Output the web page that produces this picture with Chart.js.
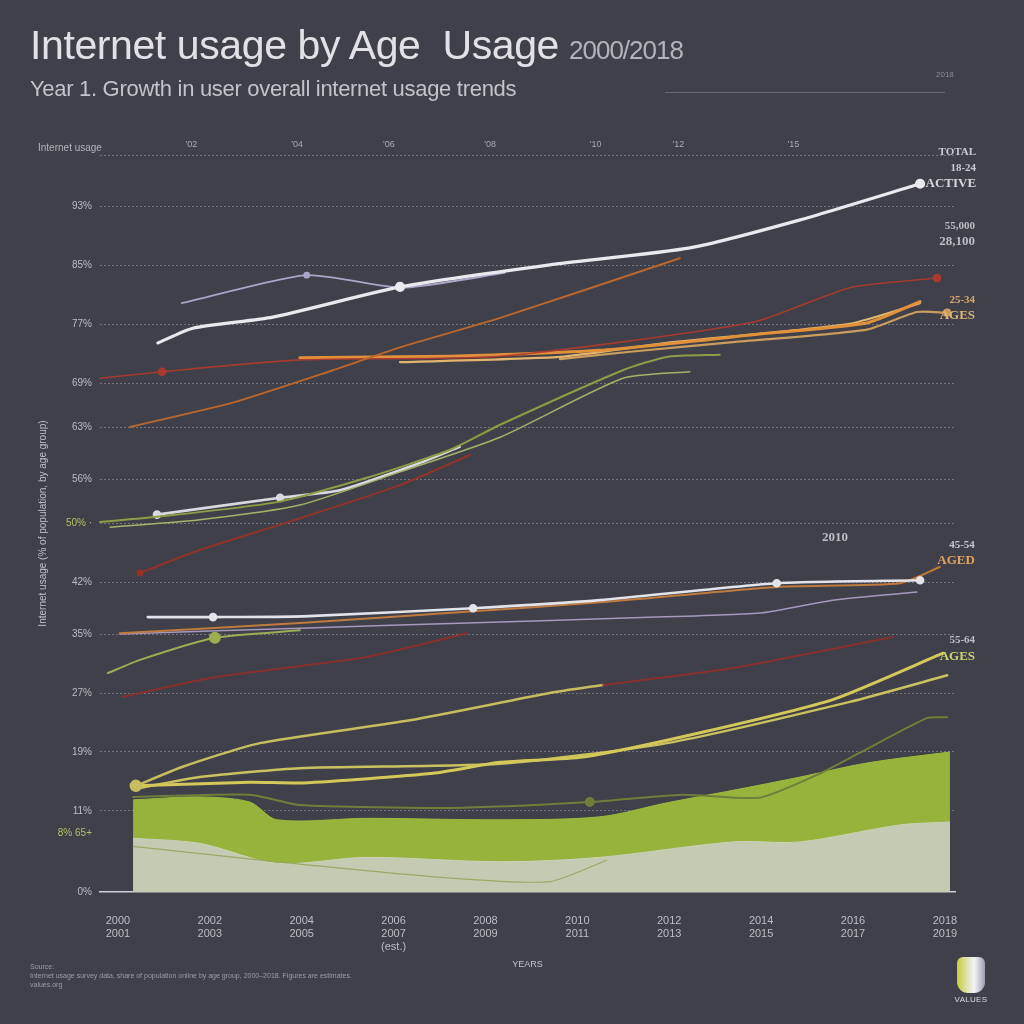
<!DOCTYPE html>
<html>
<head>
<meta charset="utf-8">
<script src="https://cdn.jsdelivr.net/npm/chart.js@4.4.0/dist/chart.umd.min.js"></script>
<style>
  html, body { margin: 0; padding: 0; background: #3f4049; }
  #wrap { position: relative; width: 1024px; height: 1024px; overflow: hidden; font-family: "Liberation Sans", Arial, sans-serif; }
  #wrap canvas { position: absolute; left: 0; top: 0; }
  .title { position: absolute; left: 30px; top: 22px; font-size: 41px; color: #e2e2e6; letter-spacing: -0.4px; white-space: nowrap; }
  .title .yr { font-size: 26px; color: #b3b3ba; letter-spacing: -1px; margin-left: 10px; }
  .subtitle { position: absolute; left: 30px; top: 76px; font-size: 22px; color: #c3c3c9; white-space: nowrap; letter-spacing: -0.3px; }
  .rule { position: absolute; left: 665px; top: 92px; width: 280px; height: 1px; background: #6a6b74; }
  .tiny { position: absolute; left: 936px; top: 70px; font-size: 8px; color: #8d8d95; }
  .foot { position: absolute; left: 30px; top: 962px; font-size: 7px; line-height: 9px; color: #9c9ca4; }
  .logo { position: absolute; left: 957px; top: 957px; width: 28px; height: 36px; border-radius: 6px 6px 11px 11px;
          background: linear-gradient(90deg, #c5cd3a 0%, #e3e7c4 42%, #f4f4f6 62%, #9a9dae 100%); }
  .logoText { position: absolute; left: 946px; top: 995px; width: 50px; text-align: center; font-size: 8px; color: #dcdce0; letter-spacing: 0.3px; }
</style>
</head>
<body>
<div id="wrap">
  <canvas id="myChart" width="1024" height="1024"></canvas>
  <div class="title">Internet usage by Age&nbsp; Usage<span class="yr">2000/2018</span></div>
  <div class="subtitle">Year 1. Growth in user overall internet usage trends</div>
  <div class="rule"></div>
  <div class="tiny">2018</div>
  <div class="foot">Source:<br>Internet usage survey data, share of population online by age group, 2000–2018. Figures are estimates.<br>values.org</div>
  <div class="logo"></div>
  <div class="logoText">VALUES</div>
</div>
<script>
// x = year, y = share of users (%)
const xTickYears = [2000, 2002, 2004, 2006, 2008, 2010, 2012, 2014, 2016, 2018];
const xTickLabels = [
  ['2000', '2001'], ['2002', '2003'], ['2004', '2005'], ['2006', '2007', '(est.)'], ['2008', '2009'],
  ['2010', '2011'], ['2012', '2013'], ['2014', '2015'], ['2016', '2017'], ['2018', '2019']
];
const topTickYears = [2001.6, 2003.9, 2005.9, 2008.1, 2010.4, 2012.2, 2014.7];
const topTickLabels = ["'02", "'04", "'06", "'08", "'10", "'12", "'15"];
const yTickValues = [0, 8, 11, 19, 27, 35, 42, 50, 56, 63, 69, 77, 85, 93, 100];
const yTickLabels = ['0%', '8% 65+', '11%', '19%', '27%', '35%', '42%', '50% ·', '56%', '63%', '69%', '77%', '85%', '93%', ''];

// series: [year, value]
const totalUsers = [[2000.87, 74.5], [2001.63, 76.5], [2003.37, 78.0], [2006.14, 82.1], [2009.40, 85.1], [2012.45, 87.4], [2014.85, 91.2], [2017.46, 96.1]];
const earlyAdopters = [[2001.39, 79.9], [2004.11, 83.7], [2006.18, 82.0], [2008.42, 84.0]];
const age18Mobile = [[2000.26, 63.1], [2002.50, 66.4], [2004.68, 70.8], [2006.14, 73.9], [2008.32, 77.9], [2012.23, 86.0]];
const age25Red = [[1999.61, 69.7], [2000.96, 70.6], [2003.96, 72.2], [2008.32, 72.7], [2013.82, 77.3], [2015.93, 82.0], [2017.83, 83.3]];
const age25Orange = [[2003.96, 72.5], [2007.23, 72.7], [2010.49, 73.5], [2014.13, 75.8], [2016.30, 77.2], [2017.46, 80.1]];
const age35Gold = [[2006.14, 71.9], [2009.62, 72.6], [2011.95, 74.5], [2015.93, 77.1], [2017.46, 79.9]];
const age35Sand = [[2009.62, 72.3], [2011.15, 73.3], [2013.39, 74.6], [2016.30, 76.3], [2017.39, 78.7], [2018.05, 78.6]];
const broadbandGreen = [[1999.61, 50.2], [2000.85, 50.9], [2003.46, 52.9], [2005.42, 56.2], [2007.23, 60.0], [2008.32, 63.4], [2010.99, 70.8], [2011.95, 72.6], [2013.10, 72.9]];
const broadbandOlive = [[1999.83, 49.5], [2001.78, 50.5], [2003.96, 52.5], [2006.14, 57.0], [2008.32, 61.7], [2010.99, 69.7], [2012.45, 70.6]];
const dialupWhite = [[2000.85, 51.2], [2003.53, 53.5], [2004.83, 54.5], [2006.57, 58.2], [2007.44, 60.4]];
const dialupRed = [[2000.48, 43.3], [2001.78, 46.4], [2003.96, 50.7], [2006.14, 55.2], [2007.66, 59.3]];
const age45White = [[2000.65, 37.3], [2002.07, 37.3], [2004.03, 37.4], [2007.73, 38.5], [2010.49, 39.6], [2014.34, 41.9], [2017.46, 42.3]];
const age45Orange = [[2000.04, 35.1], [2003.96, 36.5], [2007.73, 38.1], [2010.49, 39.3], [2014.34, 41.4], [2017.02, 41.9], [2017.89, 44.1]];
const age45Lilac = [[2000.04, 35.0], [2003.96, 35.8], [2007.60, 36.5], [2011.21, 37.2], [2014.04, 37.9], [2015.56, 39.6], [2017.39, 40.7]];
const ruralGreen = [[1999.78, 29.7], [2000.48, 31.5], [2002.11, 34.5], [2003.96, 35.5]];
const ruralRed = [[2000.11, 26.5], [2002.16, 29.2], [2005.42, 31.9], [2007.60, 35.1]];
const ruralRedLate = [[2010.56, 28.1], [2013.39, 30.4], [2016.87, 34.6]];
const age55A = [[2000.39, 14.4], [2001.41, 17.0], [2003.09, 20.2], [2006.36, 23.3], [2009.40, 27.0], [2010.56, 28.1]];
const age55B = [[2000.39, 14.4], [2002.87, 14.9], [2004.03, 14.8], [2006.86, 16.1], [2008.32, 17.6], [2010.12, 18.3], [2012.67, 21.6], [2015.56, 26.1], [2017.96, 32.4]];
const age55C = [[2000.39, 14.0], [2001.78, 15.6], [2003.96, 16.8], [2008.32, 17.4], [2011.95, 20.2], [2015.93, 25.8], [2018.05, 29.4]];
const age65Line = [[2000.33, 12.9], [2002.87, 13.2], [2003.96, 11.8], [2007.23, 11.4], [2010.27, 12.2], [2012.30, 13.2], [2013.97, 12.8], [2015.22, 15.9], [2016.15, 18.9], [2017.61, 23.6], [2018.05, 23.7]];
const age65Area = [[2000.33, 12.5], [2001.78, 12.9], [2002.87, 12.2], [2003.46, 9.8], [2005.42, 10.0], [2008.32, 9.8], [2010.49, 10.2], [2011.95, 12.1], [2013.39, 13.8], [2014.85, 15.6], [2016.30, 17.5], [2018.11, 19.0]];
const offlineArea = [[2000.33, 7.3], [2001.78, 6.6], [2003.46, 3.9], [2005.42, 4.7], [2008.32, 4.1], [2010.49, 4.7], [2013.39, 6.8], [2014.85, 6.8], [2017.02, 9.1], [2018.11, 9.5]];
const offlineEdge = [[2000.33, 6.2], [2003.46, 4.1], [2007.23, 1.9], [2009.40, 1.4], [2010.64, 4.3]];

const pts = arr => arr.map(p => ({ x: p[0], y: p[1] }));

// helper for the line series
const line = (label, arr, color, width, extra) => Object.assign({
  label: label,
  data: pts(arr),
  borderColor: color,
  backgroundColor: color,
  borderWidth: width,
  tension: 0.2,
  fill: false,
  order: 1,
  clip: false,
  borderCapStyle: 'round'
}, extra || {});

const datasets = [
  line('Total users', totalUsers, '#e9e9ee', 3.2, { marks: [3, 7], markR: 3.5 }),
  line('Early adopters', earlyAdopters, '#aaa5c9', 1.8, { marks: [1], markR: 2.5 }),
  line('18-24 mobile', age18Mobile, '#b9672f', 2),
  line('25-34 (red)', age25Red, 'rgba(178,58,46,0.9)', 1.6, { marks: [1, 6], markR: 3.5, markColor: '#d0707a' }),
  line('25-34', age25Orange, '#e0913a', 3),
  line('35-44', age35Gold, '#e4b56c', 2.2),
  line('35-44 (b)', age35Sand, '#c99d5c', 2.2, { marks: [5], markR: 3, markColor: '#dcd0c0' }),
  line('Broadband', broadbandGreen, '#8b9f46', 2),
  line('Broadband (b)', broadbandOlive, '#a3b46a', 1.5),
  line('Dial-up', dialupWhite, '#d9d9e0', 2.6, { marks: [0, 1], markR: 3 }),
  line('Dial-up (red)', dialupRed, 'rgba(160,48,38,0.85)', 2, { marks: [0], markR: 2.5 }),
  line('45-54', age45White, '#e3e3ea', 2.6, { marks: [1, 3, 5, 6], markR: 3 }),
  line('45-54 (orange)', age45Orange, '#c17a3e', 2),
  line('45-54 (lilac)', age45Lilac, '#a698bf', 1.5),
  line('Rural', ruralGreen, '#9bae52', 2, { marks: [2], markR: 5, markColor: '#b4c45a' }),
  line('Rural (red)', ruralRed, 'rgba(150,45,40,0.85)', 2),
  line('Rural (red, late)', ruralRedLate, 'rgba(150,45,40,0.85)', 2),
  line('55-64', age55A, '#c6bd5e', 2.5, { marks: [0], markR: 5, markColor: '#f0f0f0' }),
  line('55-64 (b)', age55B, '#d3c85a', 3),
  line('55-64 (c)', age55C, '#c9c25e', 2.5),
  line('65+', age65Line, '#6f7f3a', 2, { marks: [4], markR: 4 }),
  line('Offline edge', offlineEdge, 'rgba(150,165,95,0.9)', 1.2),
  {
    label: '65+ share',
    data: pts(age65Area),
    borderColor: '#9cb93e',
    backgroundColor: '#97b33b',
    borderWidth: 1,
    fill: 'origin',
    tension: 0.3,
    pointRadius: 0,
    order: 6
  },
  {
    label: 'Offline',
    data: pts(offlineArea),
    borderColor: '#cbd2b8',
    backgroundColor: '#c4cbb2',
    borderWidth: 1,
    fill: 'origin',
    tension: 0.3,
    pointRadius: 0,
    order: 5
  }
];

// labels next to the line ends: dataset index, pixel offset, lines
const endNotes = [
  { ds: 0, dx: 56, dy: -32, lines: ['TOTAL', '18-24', 'ACTIVE'], colors: ['#c9c9cf', '#c9c9cf', '#d6d6db'] },
  { ds: 3, dx: 38, dy: -52, lines: ['55,000', '28,100'], colors: ['#bcbcc2', '#bcbcc2'] },
  { ds: 5, dx: 55, dy: -3, lines: ['25-34', 'AGES'], colors: ['#d6a56a', '#dcb57a'] },
  { ds: 11, dx: -72, dy: -43, lines: ['2010'], colors: ['#bcbcc2'] },
  { ds: 12, dx: 35, dy: -22, lines: ['45-54', 'AGED'], colors: ['#c4c4ca', '#e2a364'] },
  { ds: 18, dx: 32, dy: -13, lines: ['55-64', 'AGES'], colors: ['#bcbcc2', '#cdd46e'] }
];

const notesPlugin = {
  id: 'notes',
  afterDatasetsDraw(chart) {
    const ctx = chart.ctx;
    ctx.save();
    ctx.textAlign = 'right';
    ctx.textBaseline = 'middle';
    endNotes.forEach(n => {
      const meta = chart.getDatasetMeta(n.ds);
      const last = meta.data[meta.data.length - 1];
      n.lines.forEach((t, i) => {
        ctx.font = (i === n.lines.length - 1 ? 'bold 13px' : 'bold 11px') + ' "Liberation Serif", serif';
        ctx.fillStyle = n.colors[i];
        ctx.fillText(t, last.x + n.dx, last.y + n.dy + i * 16);
      });
    });
    // header above the y axis
    ctx.textAlign = 'left';
    ctx.font = '10px "Liberation Sans", Arial, sans-serif';
    ctx.fillStyle = '#b3b3ba';
    ctx.fillText('Internet usage', 38, chart.chartArea.top - 7);
    ctx.restore();
  }
};

const ctx = document.getElementById('myChart').getContext('2d');
new Chart(ctx, {
  type: 'line',
  data: { datasets: datasets },
  plugins: [notesPlugin],
  options: {
    responsive: false,
    animation: false,
    layout: { padding: { left: 33, right: 69, top: 125, bottom: 50 } },
    elements: {
      point: {
        radius: c => (c.dataset.marks || []).includes(c.dataIndex) ? (c.dataset.markR || 3) : 0,
        backgroundColor: c => c.dataset.markColor || '#ececf0',
        borderWidth: 0
      }
    },
    plugins: {
      legend: { display: false },
      tooltip: { enabled: false }
    },
    scales: {
      x: {
        type: 'linear',
        min: 1999.61,
        max: 2018.22,
        afterBuildTicks: s => { s.ticks = xTickYears.map(v => ({ value: v })); },
        afterFit: s => { s.height = 82; },
        grid: { display: false },
        border: { display: true, color: '#cfcfd5', width: 1.5 },
        ticks: {
          color: '#bdbdc3',
          font: { size: 11, family: '"Liberation Sans", Arial, sans-serif' },
          padding: 14,
          maxRotation: 0,
          autoSkip: false,
          callback: (v, i) => xTickLabels[i]
        },
        title: {
          display: true,
          text: 'YEARS',
          color: '#c4c4ca',
          font: { size: 9, family: '"Liberation Sans", Arial, sans-serif' }
        }
      },
      x2: {
        type: 'linear',
        position: 'top',
        min: 1999.61,
        max: 2018.22,
        afterBuildTicks: s => { s.ticks = topTickYears.map(v => ({ value: v })); },
        afterFit: s => { s.height = 30; },
        grid: { display: false, drawTicks: false },
        border: { display: false },
        ticks: {
          color: '#a9a9b0',
          font: { size: 9, family: '"Liberation Sans", Arial, sans-serif' },
          padding: 5,
          maxRotation: 0,
          autoSkip: false,
          callback: (v, i) => topTickLabels[i]
        }
      },
      y: {
        min: 0,
        max: 100,
        afterBuildTicks: s => { s.ticks = yTickValues.map(v => ({ value: v })); },
        afterFit: s => { s.width = 67; },
        grid: {
          color: c => (c.tick && (c.tick.value === 8 || c.tick.value === 0)) ? 'rgba(0,0,0,0)' : 'rgba(205,205,215,0.38)',
          lineWidth: 1,
          drawTicks: false
        },
        border: { display: false, dash: [2, 2] },
        ticks: {
          padding: 8,
          font: { size: 10, family: '"Liberation Sans", Arial, sans-serif' },
          color: c => (c.tick && (c.tick.value === 50 || c.tick.value === 8)) ? '#b5bd6a' : '#bdbdc3',
          callback: (v, i) => yTickLabels[i]
        },
        title: {
          display: true,
          text: 'Internet usage (% of population, by age group)',
          color: '#c0c0c6',
          font: { size: 10, family: '"Liberation Sans", Arial, sans-serif' }
        }
      }
    }
  }
});
</script>
</body>
</html>
